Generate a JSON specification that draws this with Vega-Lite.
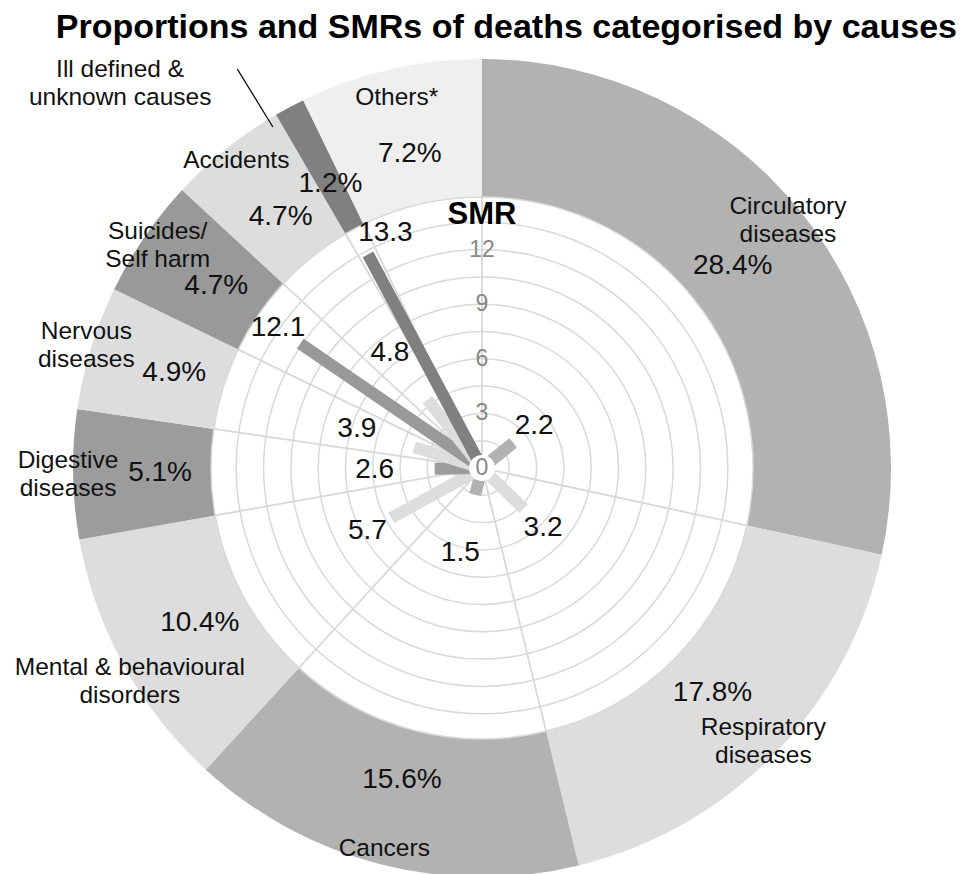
{
  "$schema": "https://vega.github.io/schema/vega-lite/v6.json",
  "width": 960,
  "height": 812,
  "autosize": "none",
  "padding": {"left": 2, "top": 62, "right": 0, "bottom": 0},
  "background": "white",
  "title": {"text": "Proportions and SMRs of deaths categorised by causes", "font": "Liberation Sans", "fontSize": 34, "fontWeight": "bold", "color": "#000000", "anchor": "end", "offset": 12, "dx": -5},
  "datasets": {
    "causes": [
      {"idx": 1, "cat": "Circulatory diseases", "label": "Circulatory\ndiseases", "share": 0.284, "smr": 2.2},
      {"idx": 2, "cat": "Respiratory diseases", "label": "Respiratory\ndiseases", "share": 0.178, "smr": 3.2},
      {"idx": 3, "cat": "Cancers", "label": "Cancers", "share": 0.156, "smr": 1.5},
      {"idx": 4, "cat": "Mental & behavioural disorders", "label": "Mental & behavioural\ndisorders", "share": 0.104, "smr": 5.7},
      {"idx": 5, "cat": "Digestive diseases", "label": "Digestive\ndiseases", "share": 0.051, "smr": 2.6},
      {"idx": 6, "cat": "Nervous diseases", "label": "Nervous\ndiseases", "share": 0.049, "smr": 3.9},
      {"idx": 7, "cat": "Suicides/Self harm", "label": "Suicides/\nSelf harm", "share": 0.047, "smr": 12.1},
      {"idx": 8, "cat": "Accidents", "label": "Accidents", "share": 0.047, "smr": 4.8},
      {"idx": 9, "cat": "Ill defined & unknown causes", "label": "Ill defined &\nunknown causes", "share": 0.012, "smr": 13.3},
      {"idx": 10, "cat": "Others*", "label": "Others*", "share": 0.072, "smr": null}
    ],
    "grid": [{"v": 1.5}, {"v": 3}, {"v": 4.5}, {"v": 6}, {"v": 7.5}, {"v": 9}, {"v": 10.5}, {"v": 12}, {"v": 13.5}],
    "ticks": [{"v": 0}, {"v": 3}, {"v": 6}, {"v": 9}, {"v": 12}]
  },
  "data": {"name": "causes"},
  "transform": [
    {"stack": "share", "groupby": [], "sort": [{"field": "idx", "order": "ascending"}], "as": ["s0", "s1"]},
    {"fold": ["s0", "s1"], "as": ["edge", "ang"]},
    {"aggregate": [{"op": "mean", "field": "ang", "as": "mid"}], "groupby": ["idx", "cat", "label", "share", "smr"]}
  ],
  "layer": [
    {
      "mark": {"type": "arc", "radius": 409, "radius2": 271},
      "encoding": {
        "theta": {"field": "share", "type": "quantitative", "stack": true, "scale": {"domain": [0, 1]}},
        "order": {"field": "idx", "type": "quantitative"},
        "color": {"field": "cat", "type": "nominal", "legend": null, "scale": {
          "domain": ["Circulatory diseases", "Respiratory diseases", "Cancers", "Mental & behavioural disorders", "Digestive diseases", "Nervous diseases", "Suicides/Self harm", "Accidents", "Ill defined & unknown causes", "Others*"],
          "range": ["#b2b2b2", "#dddddd", "#b2b2b2", "#dddddd", "#9c9c9c", "#dddddd", "#999999", "#dddddd", "#808080", "#efefef"]}}
      }
    },
    {
      "mark": {"type": "arc", "radius": 271, "filled": false, "stroke": "#d9d9d9", "strokeWidth": 1.5},
      "encoding": {
        "theta": {"field": "share", "type": "quantitative", "stack": true, "scale": {"domain": [0, 1]}},
        "order": {"field": "idx", "type": "quantitative"}
      }
    },
    {
      "data": {"name": "grid"},
      "mark": {"type": "arc", "theta": 0, "theta2": 6.2832, "filled": false, "stroke": "#d9d9d9", "strokeWidth": 1.5},
      "encoding": {
        "radius": {"field": "v", "type": "quantitative", "stack": null, "scale": {"type": "linear", "domain": [0, 15], "range": [0, 273], "zero": true}}
      }
    },
    {
      "transform": [{"filter": "isValid(datum.smr)"}],
      "mark": {"type": "arc", "filled": false, "strokeWidth": 12, "strokeJoin": "bevel"},
      "encoding": {
        "theta": {"field": "mid", "type": "quantitative", "stack": null, "scale": {"domain": [0, 1]}},
        "theta2": {"field": "mid"},
        "radius": {"field": "smr", "type": "quantitative", "stack": null, "scale": {"type": "linear", "domain": [0, 15], "range": [0, 273], "zero": true}},
        "color": {"field": "cat", "type": "nominal", "legend": null}
      }
    },
    {
      "data": {"values": [{"v": 0}]},
      "mark": {"type": "arc", "theta": 0, "theta2": 6.2832, "radius": 13, "fill": "white"},
      "encoding": {}
    },
    {
      "data": {"name": "ticks"},
      "mark": {"type": "text", "theta": 0, "fontSize": 23, "color": "#888888", "align": "center", "baseline": "middle"},
      "encoding": {
        "radius": {"field": "v", "type": "quantitative", "stack": null, "scale": {"type": "linear", "domain": [0, 15], "range": [0, 273], "zero": true}},
        "text": {"field": "v", "type": "quantitative", "format": "d"}
      }
    },
    {
      "data": {"values": [{"t": "SMR"}]},
      "mark": {"type": "text", "theta": 0, "radius": 253, "fontSize": 31, "fontWeight": "bold", "color": "#000000", "align": "center", "baseline": "middle"},
      "encoding": {"text": {"field": "t", "type": "nominal"}}
    },
    {
      "transform": [{"filter": {"field": "cat", "oneOf": ["Circulatory diseases", "Respiratory diseases", "Mental & behavioural disorders", "Suicides/Self harm"]}}],
      "mark": {"type": "text", "radiusOffset": 27, "fontSize": 28, "color": "#111111", "align": "center", "baseline": "middle"},
      "encoding": {
        "theta": {"field": "mid", "type": "quantitative", "stack": null, "scale": {"domain": [0, 1]}},
        "radius": {"field": "smr", "type": "quantitative", "stack": null, "scale": {"type": "linear", "domain": [0, 15], "range": [0, 273], "zero": true}},
        "text": {"field": "smr", "type": "quantitative", "format": ".1f"}
      }
    },
    {
      "transform": [{"filter": {"field": "cat", "oneOf": ["Cancers", "Digestive diseases", "Nervous diseases", "Accidents"]}}],
      "mark": {"type": "text", "radiusOffset": 60, "fontSize": 28, "color": "#111111", "align": "center", "baseline": "middle"},
      "encoding": {
        "theta": {"field": "mid", "type": "quantitative", "stack": null, "scale": {"domain": [0, 1]}},
        "radius": {"field": "smr", "type": "quantitative", "stack": null, "scale": {"type": "linear", "domain": [0, 15], "range": [0, 273], "zero": true}},
        "text": {"field": "smr", "type": "quantitative", "format": ".1f"}
      }
    },
    {
      "transform": [{"filter": {"field": "cat", "equal": "Ill defined & unknown causes"}}],
      "mark": {"type": "text", "radiusOffset": 12, "thetaOffset": 0.1, "fontSize": 28, "color": "#111111", "align": "center", "baseline": "middle"},
      "encoding": {
        "theta": {"field": "mid", "type": "quantitative", "stack": null, "scale": {"domain": [0, 1]}},
        "radius": {"field": "smr", "type": "quantitative", "stack": null, "scale": {"type": "linear", "domain": [0, 15], "range": [0, 273], "zero": true}},
        "text": {"field": "smr", "type": "quantitative", "format": ".1f"}
      }
    },
    {
      "mark": {"type": "text", "radius": 322, "fontSize": 28, "color": "#111111", "align": "center", "baseline": "middle"},
      "encoding": {
        "theta": {"field": "mid", "type": "quantitative", "stack": null, "scale": {"domain": [0, 1]}},
        "text": {"field": "share", "type": "quantitative", "format": ".1%"}
      }
    },
    {
      "transform": [{"filter": {"field": "cat", "oneOf": ["Circulatory diseases", "Respiratory diseases", "Suicides/Self harm"]}}],
      "mark": {"type": "text", "radius": 393, "dy": -14, "fontSize": 24.5, "lineBreak": "\n", "lineHeight": 28, "color": "#111111", "align": "center", "baseline": "middle"},
      "encoding": {
        "theta": {"field": "mid", "type": "quantitative", "stack": null, "scale": {"domain": [0, 1]}},
        "text": {"field": "label", "type": "nominal"}
      }
    },
    {
      "transform": [{"filter": {"field": "cat", "oneOf": ["Cancers", "Accidents"]}}],
      "mark": {"type": "text", "radius": 393, "fontSize": 24.5, "color": "#111111", "align": "center", "baseline": "middle"},
      "encoding": {
        "theta": {"field": "mid", "type": "quantitative", "stack": null, "scale": {"domain": [0, 1]}},
        "text": {"field": "label", "type": "nominal"}
      }
    },
    {
      "transform": [{"filter": {"field": "cat", "equal": "Others*"}}],
      "mark": {"type": "text", "radius": 380, "fontSize": 24.5, "color": "#111111", "align": "center", "baseline": "middle"},
      "encoding": {
        "theta": {"field": "mid", "type": "quantitative", "stack": null, "scale": {"domain": [0, 1]}},
        "text": {"field": "label", "type": "nominal"}
      }
    },
    {
      "transform": [{"filter": {"field": "cat", "oneOf": ["Digestive diseases", "Nervous diseases"]}}],
      "mark": {"type": "text", "radius": 414, "dy": -14, "fontSize": 24.5, "lineBreak": "\n", "lineHeight": 28, "color": "#111111", "align": "center", "baseline": "middle"},
      "encoding": {
        "theta": {"field": "mid", "type": "quantitative", "stack": null, "scale": {"domain": [0, 1]}},
        "text": {"field": "label", "type": "nominal"}
      }
    },
    {
      "transform": [{"filter": {"field": "cat", "equal": "Mental & behavioural disorders"}}],
      "mark": {"type": "text", "radius": 412, "thetaOffset": -0.043, "dy": -14, "fontSize": 24.5, "lineBreak": "\n", "lineHeight": 28, "color": "#111111", "align": "center", "baseline": "middle"},
      "encoding": {
        "theta": {"field": "mid", "type": "quantitative", "stack": null, "scale": {"domain": [0, 1]}},
        "text": {"field": "label", "type": "nominal"}
      }
    },
    {
      "transform": [{"filter": {"field": "cat", "equal": "Ill defined & unknown causes"}}],
      "mark": {"type": "arc", "radius": 468, "radius2": 400, "thetaOffset": -0.06, "theta2Offset": -0.06, "filled": false, "stroke": "#111111", "strokeWidth": 1.3, "strokeJoin": "bevel"},
      "encoding": {
        "theta": {"field": "mid", "type": "quantitative", "stack": null, "scale": {"domain": [0, 1]}},
        "theta2": {"field": "mid"}
      }
    },
    {
      "transform": [{"filter": {"field": "cat", "equal": "Ill defined & unknown causes"}}],
      "mark": {"type": "text", "radius": 528, "thetaOffset": -0.265, "dy": -14, "fontSize": 24.5, "lineBreak": "\n", "lineHeight": 28, "color": "#111111", "align": "center", "baseline": "middle"},
      "encoding": {
        "theta": {"field": "mid", "type": "quantitative", "stack": null, "scale": {"domain": [0, 1]}},
        "text": {"field": "label", "type": "nominal"}
      }
    }
  ],
  "config": {
    "view": {"stroke": null},
    "text": {"font": "Liberation Sans"},
    "title": {"font": "Liberation Sans"}
  }
}
